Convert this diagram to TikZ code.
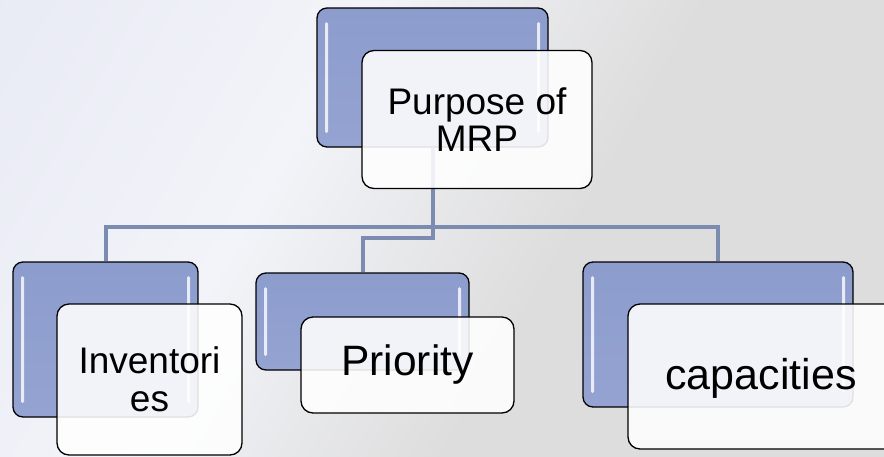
\documentclass[tikz,border=0pt]{standalone}
\usepackage{fontspec}
\setmainfont{Liberation Sans}
\usetikzlibrary{calc}

\definecolor{linkblue}{RGB}{124,139,176}
\definecolor{boxblue}{RGB}{148,163,209}
\definecolor{boxblueTop}{RGB}{140,156,205}
\definecolor{bgL}{RGB}{225,228,242}
\definecolor{bgM}{RGB}{243,244,249}
\definecolor{bgR}{RGB}{221,221,221}

\pgfdeclarehorizontalshading{bgshade}{100bp}{%
  color(0bp)=(bgL); color(38bp)=(bgM); color(58bp)=(bgR); color(100bp)=(bgR)}

\tikzset{
  backbox/.style={draw=black, line width=1.3pt, rounded corners=10pt,
    top color=boxblueTop, bottom color=boxblue, inner sep=0pt,
    path picture={
      \fill[white, opacity=0.8, rounded corners=1.5pt]
        ([xshift=8pt,yshift=-14pt]path picture bounding box.north west) rectangle
        ([xshift=11pt,yshift=14pt]path picture bounding box.south west);
      \fill[white, opacity=0.8, rounded corners=1.5pt]
        ([xshift=-11pt,yshift=-14pt]path picture bounding box.north east) rectangle
        ([xshift=-8pt,yshift=14pt]path picture bounding box.south east);
    }},
  frontbox/.style={draw=black, line width=1.3pt, rounded corners=12pt,
    fill=white, fill opacity=0.88, text opacity=1, align=center, inner sep=0pt},
  link/.style={draw=linkblue, line width=4pt}
}

\begin{document}
\begin{tikzpicture}[x=1pt,y=-1pt]
  \useasboundingbox (0,0) rectangle (884,456);
  \shade[shading=bgshade, shading angle=-30] (0,0) rectangle (884,456);

  % levels of the connector bus
  \coordinate (busA) at (0,227);
  \coordinate (busB) at (0,238);

  % back (blue) boxes
  \node[backbox, minimum width=231pt, minimum height=139pt] (pmB)  at (432.5,77.5) {};
  \node[backbox, minimum width=185pt, minimum height=155pt] (invB) at (105.5,339.5) {};
  \node[backbox, minimum width=213pt, minimum height=97pt]  (prB)  at (362.5,321.5) {};
  \node[backbox, minimum width=270pt, minimum height=145pt] (capB) at (718,334.5) {};

  % connectors
  \draw[link] (pmB.south) -- (pmB.south |- busA) -| (invB.north);
  \draw[link] (pmB.south) -- (pmB.south |- busA) -| (capB.north);
  \draw[link] (pmB.south) -- (pmB.south |- busB) -| (prB.north);

  % front (white) boxes with labels
  \node[frontbox, minimum width=230pt, minimum height=138pt,
        font=\fontsize{37}{37}\selectfont] (pm) at (477,119.5) {Purpose of\\MRP};
  \node[frontbox, minimum width=185pt, minimum height=151pt,
        font=\fontsize{37}{38}\selectfont] (inv) at (149.5,379.5) {Inventori\\es};
  \node[frontbox, minimum width=213pt, minimum height=96pt,
        font=\fontsize{42.5}{44}\selectfont] (pr) at (407.5,365) {Priority};
  \node[frontbox, minimum width=270pt, minimum height=145pt] (cap) at (763,376.5) {};
  \node[font=\fontsize{43}{44}\selectfont] (capT) at (761,378) {capacities};
\end{tikzpicture}
\end{document}
